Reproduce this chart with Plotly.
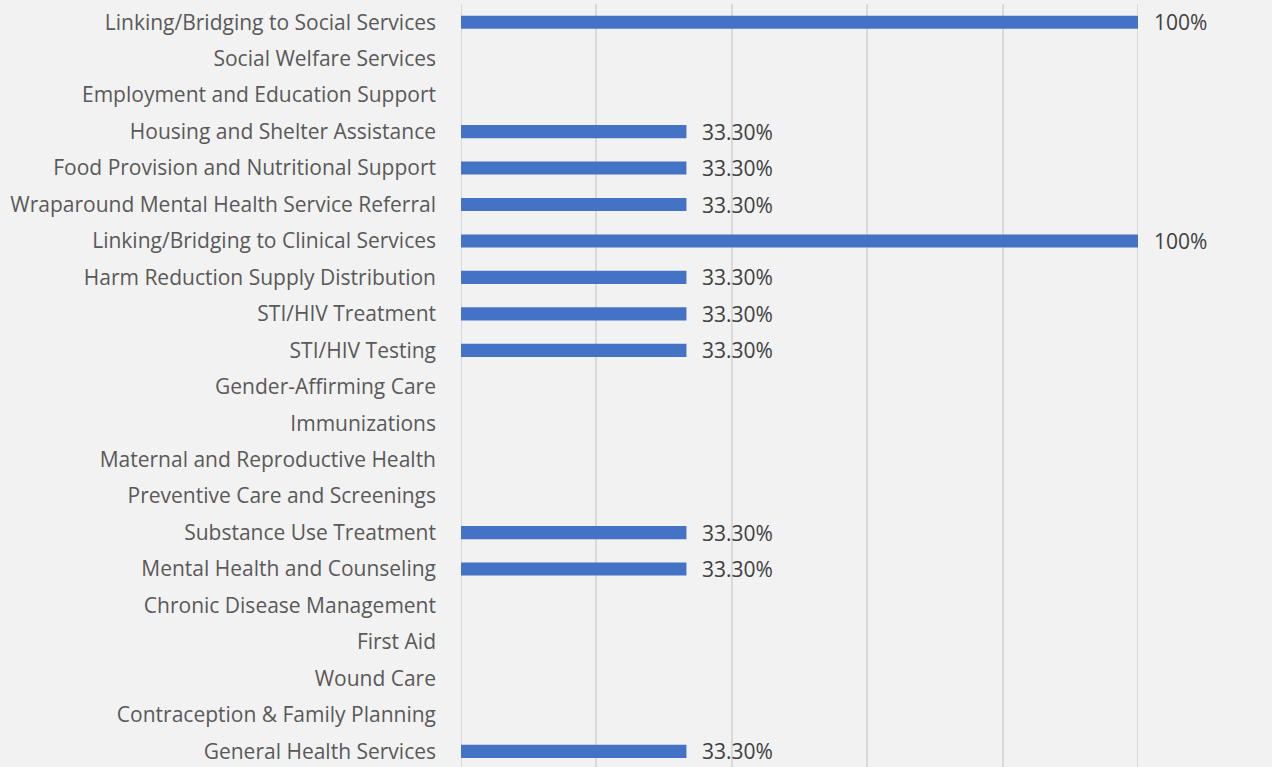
import plotly.graph_objects as go

categories = [
    "General Health Services",
    "Contraception & Family Planning",
    "Wound Care",
    "First Aid",
    "Chronic Disease Management",
    "Mental Health and Counseling",
    "Substance Use Treatment",
    "Preventive Care and Screenings",
    "Maternal and Reproductive Health",
    "Immunizations",
    "Gender-Affirming Care",
    "STI/HIV Testing",
    "STI/HIV Treatment",
    "Harm Reduction Supply Distribution",
    "Linking/Bridging to Clinical Services",
    "Wraparound Mental Health Service Referral",
    "Food Provision and Nutritional Support",
    "Housing and Shelter Assistance",
    "Employment and Education Support",
    "Social Welfare Services",
    "Linking/Bridging to Social Services",
]
values = [0.333, None, None, None, None, 0.333, 0.333, None, None, None, None,
          0.333, 0.333, 0.333, 1.0, 0.333, 0.333, 0.333, None, None, 1.0]
value_labels = ["33.30%", "", "", "", "", "33.30%", "33.30%", "", "", "", "",
                "33.30%", "33.30%", "33.30%", "100%", "33.30%", "33.30%", "33.30%", "", "", "100%"]

FONT = "Open Sans"
TEXT = "#595959"

fig = go.Figure(go.Bar(
    x=values, y=categories, orientation="h",
    marker=dict(color="#4472C4", line=dict(width=0)),
    width=0.36,
))

annotations = []
for c, v, lab in zip(categories, values, value_labels):
    if v is None:
        continue
    annotations.append(dict(x=v, y=c, xref="x", yref="y", text=lab, showarrow=False,
                            xanchor="left", yanchor="middle", xshift=14,
                            font=dict(family=FONT, size=21, color="#404040")))

fig.update_layout(
    width=1272, height=767,
    margin=dict(l=461, r=134, t=4, b=0),
    paper_bgcolor="#f2f2f2", plot_bgcolor="#f2f2f2",
    showlegend=False,
    annotations=annotations,
    font=dict(family=FONT, color=TEXT),
)
fig.update_xaxes(range=[0, 1], dtick=0.2, showticklabels=False, showgrid=True,
                 gridcolor="#d9d9d9", gridwidth=2, zeroline=False, fixedrange=True)
fig.update_yaxes(type="category", categoryorder="array", categoryarray=categories,
                 range=[-0.43, 20.5], showgrid=False, zeroline=False,
                 ticks="", ticklabelstandoff=24,
                 tickfont=dict(family=FONT, size=21, color=TEXT))
for gx in (0, 1):
    fig.add_shape(type="line", xref="x", yref="paper", x0=gx, x1=gx, y0=0, y1=1,
                  line=dict(color="#d9d9d9", width=2), layer="below")

fig.write_html("out.html", config={"displayModeBar": False},
               post_script="document.body.style.margin='0';document.body.style.background='#f2f2f2';")
